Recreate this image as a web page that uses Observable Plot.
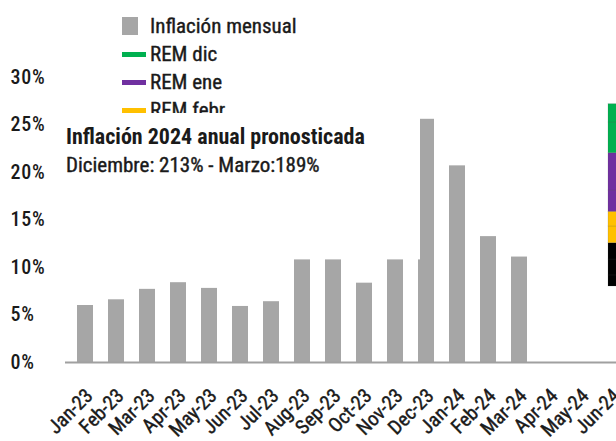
<!DOCTYPE html>
<html>
<head>
<meta charset="utf-8">
<script src="https://cdn.jsdelivr.net/npm/d3@7"></script>
<script src="https://cdn.jsdelivr.net/npm/@observablehq/plot@0.6"></script>
<style>
  html, body { margin: 0; padding: 0; background: #fff; overflow: hidden; width: 616px; height: 441px; }
  body { position: relative; font-family: "Roboto Condensed", "Liberation Sans Narrow", "DejaVu Sans Condensed", Roboto, sans-serif; font-stretch: condensed; color: #1a1a1a; }
  #chart { position: absolute; left: 0; top: 0; width: 616px; height: 441px; overflow: hidden; }
  #chart g[aria-label="y-axis tick label"] text { letter-spacing: 0.8px; }
  #legend { position: absolute; left: 122px; top: 12px; height: 101px; overflow: hidden; z-index: 2; }
  .row { height: 28px; display: flex; align-items: center; font-size: 21px; white-space: nowrap; -webkit-text-stroke: 0.4px #1a1a1a; }
  .sw { width: 24px; margin-right: 4px; }
  .sq { width: 16px; height: 18px; margin-right: 12px; }
  #note { position: absolute; left: 60px; top: 114px; width: 335px; height: 66px; background: #fff; z-index: 3; padding: 8px 0 0 6px; box-sizing: border-box; line-height: 29px; }
  #note .l1 { font-size: 22px; font-weight: 700; }
  #note .l2 { font-size: 21px; -webkit-text-stroke: 0.4px #1a1a1a; }
</style>
</head>
<body>
<div id="chart"></div>
<div id="legend"></div>
<div id="note"><div class="l1">Inflación 2024 anual pronosticada</div><div class="l2">Diciembre: 213% - Marzo:189%</div></div>
<script>
// ---- data ----
const months = ["Jan-23","Feb-23","Mar-23","Apr-23","May-23","Jun-23","Jul-23","Aug-23","Sep-23","Oct-23","Nov-23","Dec-23","Jan-24","Feb-24","Mar-24","Apr-24","May-24","Jun-24"];
const monthly = [6.0, 6.6, 7.7, 8.4, 7.8, 5.9, 6.4, 10.8, 10.8, 8.35, 10.8, 10.8, 20.7, 13.25, 11.1, null, null, null];
const decOverlayMonth = ["Dec-23"];
const decOverlayValue = [25.6];
const yTicks = [0, 5, 10, 15, 20, 25, 30];
const legendNames = ["Inflación mensual", "REM dic", "REM ene", "REM febr"];
const legendColors = ["#a6a6a6", "#00b050", "#7030a0", "#ffc000"];
// REM forecast stack (floating, drawn at the last month)
const stackMonth = "Jun-24";
const stackBase = 8.0;
const stackColors = ["#000000","#000000","#000000","#ffc000","#ffc000","#7030a0","#7030a0","#00b050","#00b050"];
const stackValues = [1.16, 1.68, 1.72, 1.76, 1.54, 2.24, 3.93, 3.23, 1.93];

// ---- build tables ----
const bars = months.map((m, i) => ({month: m, value: monthly[i]})).filter(d => d.value != null);
const overlay = decOverlayMonth.map((m, i) => ({month: m, value: decOverlayValue[i]}));
let acc = stackBase;
const stack = stackValues.map((v, i) => { const s = {month: stackMonth, y1: acc, y2: acc + v, color: stackColors[i]}; acc += v; return s; });

const FONT = '"Roboto Condensed", "Liberation Sans Narrow", "DejaVu Sans Condensed", Roboto, sans-serif';

const chart = Plot.plot({
  width: 631,
  height: 441,
  marginLeft: 65,
  marginRight: 0,
  marginTop: 77,
  marginBottom: 79,
  style: {fontFamily: FONT, background: "transparent", overflow: "hidden"},
  x: {domain: months, paddingInner: 0.49, paddingOuter: 0.255, axis: null},
  y: {domain: [0, 30], axis: null},
  marks: [
    Plot.barY(bars, {x: "month", y: "value", fill: "#a6a6a6"}),
    Plot.barY(overlay, {x: "month", y: "value", fill: "#a6a6a6", insetLeft: 2}),
    Plot.barY(stack, {x: "month", y1: "y1", y2: "y2", fill: "color", stroke: "#444", strokeOpacity: 0.25, strokeWidth: 0.6, dx: 4}),
    Plot.ruleY([0], {stroke: "#a0a0a0", strokeWidth: 2}),
    Plot.axisY(yTicks, {tickSize: 0, tickFormat: d => d + "%", textAnchor: "start", dx: -46, fontSize: 20, fontFamily: "Roboto, sans-serif", fontWeight: 500, fill: "#1a1a1a", stroke: "#1a1a1a", strokeWidth: 0.5}),
    Plot.text(months, {x: d => d, frameAnchor: "bottom", text: d => d, rotate: -45, textAnchor: "end", lineAnchor: "middle", dx: 4, dy: 30, fontSize: 20, fill: "#1a1a1a", stroke: "#1a1a1a", strokeWidth: 0.4})
  ]
});
chart.style.maxWidth = "none";
document.getElementById("chart").appendChild(chart);

// legend
const legend = document.getElementById("legend");
legendNames.forEach((name, i) => {
  const row = document.createElement("div");
  row.className = "row";
  const sw = document.createElement("span");
  if (i === 0) { sw.className = "sq"; sw.style.background = legendColors[i]; }
  else { sw.className = "sw"; sw.style.height = "5px"; sw.style.background = legendColors[i]; }
  const label = document.createElement("span");
  label.textContent = name;
  row.appendChild(sw); row.appendChild(label);
  legend.appendChild(row);
});
</script>
</body>
</html>
